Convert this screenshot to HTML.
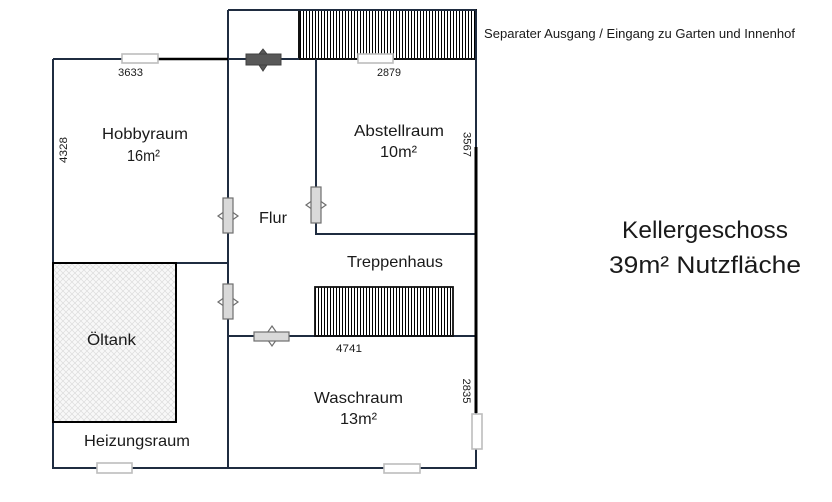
<!DOCTYPE html>
<html>
<head>
<meta charset="utf-8">
<style>
html,body{margin:0;padding:0;background:#fff;}
svg{display:block;}
text{font-family:"Liberation Sans",sans-serif;fill:#1a1a1a;}
</style>
</head>
<body>
<svg width="832" height="502" viewBox="0 0 832 502" xmlns="http://www.w3.org/2000/svg">
<defs>
<pattern id="vh" width="3" height="10" patternUnits="userSpaceOnUse">
<rect x="0" y="0" width="1" height="10" fill="#000"/>
</pattern>
<pattern id="xh" width="6" height="6" patternUnits="userSpaceOnUse">
<rect width="6" height="6" fill="#f8f8f8"/>
<path d="M0,0 L6,6 M6,0 L0,6" stroke="#dcdcdc" stroke-width="0.7"/>
</pattern>
</defs>
<rect width="832" height="502" fill="#fff"/>

<!-- top hatched area -->
<rect x="299" y="10" width="177" height="49" fill="url(#vh)"/>
<rect x="299" y="10" width="177" height="49" fill="none" stroke="#111" stroke-width="2"/>

<!-- walls navy -->
<g stroke="#1f2c40" stroke-width="2" fill="none">
<path d="M228,10 H476"/>
<path d="M228,10 V468"/>
<path d="M476,10 V468"/>
<path d="M53,59 H122"/>
<path d="M228,59 H299"/>
<path d="M53,59 V468 H477"/>
<path d="M316,59 V234 H476"/>
<path d="M53,263 H228"/>
<path d="M228,336 H476"/>
</g>
<!-- black wall segments -->
<path d="M158,59 H228" stroke="#000" stroke-width="2.5"/>
<path d="M476,147 V413" stroke="#000" stroke-width="3"/>

<!-- Öltank -->
<rect x="53" y="263" width="123" height="159" fill="url(#xh)" stroke="#000" stroke-width="2"/>

<!-- Stairs -->
<rect x="315" y="287" width="138" height="49" fill="url(#vh)"/>
<rect x="315" y="287" width="138" height="49" fill="none" stroke="#111" stroke-width="1.8"/>

<!-- windows -->
<g fill="#fff" stroke="#bdbdbd" stroke-width="1.6">
<rect x="122" y="54" width="36" height="9"/>
<rect x="358" y="54" width="35" height="9"/>
<rect x="97" y="463" width="35" height="10"/>
<rect x="384" y="464" width="36" height="9"/>
<rect x="472" y="414" width="10" height="35"/>
</g>

<!-- dark door top -->
<g fill="#585858" stroke="#404040" stroke-width="1">
<path d="M263,49 L271,59 L263,71 L255,59 Z"/>
<rect x="246" y="54" width="35" height="11"/>
</g>

<!-- light doors -->
<g stroke="#6f6f6f" stroke-width="1.2">
<path d="M218,216 L228,209 L238,216 L228,223 Z" fill="#fff"/>
<rect x="223" y="198" width="10" height="35" fill="#d9d9d9"/>
<path d="M306,205 L316,198 L326,205 L316,212 Z" fill="#fff"/>
<rect x="311" y="187" width="10" height="36" fill="#d9d9d9"/>
<path d="M218,302 L228,295 L238,302 L228,309 Z" fill="#fff"/>
<rect x="223" y="284" width="10" height="35" fill="#d9d9d9"/>
<path d="M272,326 L279,336 L272,346 L265,336 Z" fill="#fff"/>
<rect x="254" y="332" width="35" height="9" fill="#d9d9d9"/>
</g>

<!-- dimension labels -->
<g font-size="11">
<text x="118" y="76" textLength="25" lengthAdjust="spacingAndGlyphs">3633</text>
<text x="377" y="76" textLength="24" lengthAdjust="spacingAndGlyphs">2879</text>
<text x="336" y="352" textLength="26" lengthAdjust="spacingAndGlyphs">4741</text>
<text transform="translate(466.5,144.5) rotate(90)" text-anchor="middle" dominant-baseline="central" textLength="25" lengthAdjust="spacingAndGlyphs">3567</text>
<text transform="translate(466,391) rotate(90)" text-anchor="middle" dominant-baseline="central" textLength="25" lengthAdjust="spacingAndGlyphs">2835</text>
<text transform="translate(64,150) rotate(-90)" text-anchor="middle" dominant-baseline="central" textLength="26" lengthAdjust="spacingAndGlyphs">4328</text>
</g>

<!-- room labels -->
<g font-size="16">
<text x="102" y="139" textLength="86" lengthAdjust="spacingAndGlyphs">Hobbyraum</text>
<text x="127" y="161" textLength="33" lengthAdjust="spacingAndGlyphs">16m²</text>
<text x="354" y="136" textLength="90" lengthAdjust="spacingAndGlyphs">Abstellraum</text>
<text x="380" y="157" textLength="37" lengthAdjust="spacingAndGlyphs">10m²</text>
<text x="259" y="223" textLength="28" lengthAdjust="spacingAndGlyphs">Flur</text>
<text x="347" y="267" textLength="96" lengthAdjust="spacingAndGlyphs">Treppenhaus</text>
<text x="87" y="345" textLength="49" lengthAdjust="spacingAndGlyphs">Öltank</text>
<text x="84" y="446" textLength="106" lengthAdjust="spacingAndGlyphs">Heizungsraum</text>
<text x="314" y="403" textLength="89" lengthAdjust="spacingAndGlyphs">Waschraum</text>
<text x="340" y="424" textLength="37" lengthAdjust="spacingAndGlyphs">13m²</text>
</g>

<text x="484" y="38" font-size="13" textLength="311" lengthAdjust="spacingAndGlyphs">Separater Ausgang / Eingang zu Garten und Innenhof</text>

<g font-size="24">
<text x="622" y="238" textLength="166" lengthAdjust="spacingAndGlyphs">Kellergeschoss</text>
<text x="609" y="273" textLength="192" lengthAdjust="spacingAndGlyphs">39m² Nutzfläche</text>
</g>
</svg>
</body>
</html>
